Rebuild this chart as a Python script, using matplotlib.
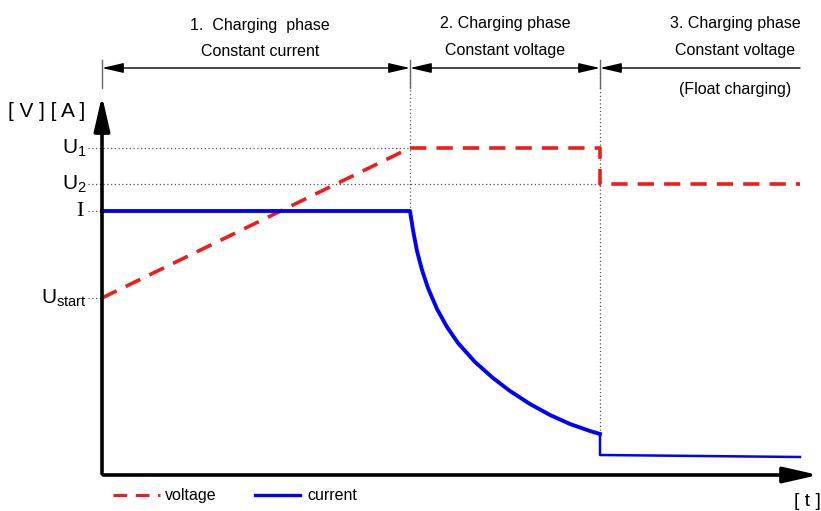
import matplotlib
matplotlib.use('Agg')
import matplotlib.pyplot as plt

plt.rcParams['font.family'] = ['Liberation Sans', 'DejaVu Sans']
plt.rcParams['mathtext.fontset'] = 'custom'
plt.rcParams['mathtext.rm'] = 'Liberation Sans'
plt.rcParams['mathtext.it'] = 'Liberation Sans'

# phase boundaries (time units)
t_phase = [0.0, 3.08, 4.98, 6.98]

# voltage
volt_t = [0.0, 3.08, 4.98, 4.98, 6.98]
volt_v = [1.77, 3.27, 3.27, 2.91, 2.91]

# current (constant, then decay)
cur_t = [0.0, 3.08, 3.11, 3.15, 3.20, 3.26, 3.35, 3.45, 3.56, 3.73,
         3.91, 4.08, 4.28, 4.48, 4.68, 4.88, 4.98]
cur_i = [2.64, 2.64, 2.45, 2.24, 2.05, 1.87, 1.66, 1.48, 1.32, 1.13,
         0.97, 0.84, 0.71, 0.60, 0.51, 0.44, 0.41]
# float charging current
float_t = [4.98, 4.98, 5.98, 6.98]
float_i = [0.41, 0.20, 0.19, 0.18]

# level markers
levels = {'U1': 3.27, 'U2': 2.91, 'I': 2.64, 'Ustart': 1.77}

fig = plt.figure(figsize=(8.21, 5.11), dpi=100)
ax = fig.add_axes([0, 0, 1, 1])
ax.set_xlim(-1.02, 7.19)
ax.set_ylim(-0.36, 4.75)
ax.axis('off')

dot = dict(color='#555555', lw=0.9, ls=(0, (1, 2)))

# horizontal guides
ax.plot([-0.14, t_phase[1]], [levels['U1']] * 2, **dot)
ax.plot([-0.14, t_phase[2]], [levels['U2']] * 2, **dot)
ax.plot([-0.14, 0], [levels['I']] * 2, **dot)
ax.plot([-0.14, 0], [levels['Ustart']] * 2, **dot)
# vertical guides
ax.plot([t_phase[1]] * 2, [levels['I'], 4.07], **dot)
ax.plot([t_phase[2]] * 2, [cur_i[-1], 4.07], **dot)

# curves
ax.plot(volt_t, volt_v, color='#ee1c1c', lw=2.6, ls=(0, (4.5, 2.8)))
ax.plot(cur_t, cur_i, color='#0000ff', lw=2.8, solid_joinstyle='round')
ax.plot(float_t, float_i, color='#0000ff', lw=1.8)

# axes with arrows
ax.annotate('', xy=(0, 3.82), xytext=(0, -0.015),
            arrowprops=dict(arrowstyle='-|>,head_length=1.4,head_width=0.32',
                            mutation_scale=15, lw=2.6, color='black'))
ax.annotate('', xy=(7.19, 0), xytext=(-0.015, 0),
            arrowprops=dict(arrowstyle='-|>,head_length=1.4,head_width=0.32',
                            mutation_scale=15, lw=2.6, color='black'))

# phase brackets
yb = 4.07
for x in t_phase[:3]:
    ax.plot([x, x], [3.87, 4.15], color='#666666', lw=1.0)
brk = dict(mutation_scale=10, lw=1.0, color='black', shrinkA=0, shrinkB=0)
ax.annotate('', xy=(t_phase[0], yb), xytext=(t_phase[1], yb),
            arrowprops=dict(arrowstyle='<|-|>,head_length=1.3,head_width=0.3', **brk))
ax.annotate('', xy=(t_phase[1], yb), xytext=(t_phase[2], yb),
            arrowprops=dict(arrowstyle='<|-|>,head_length=1.3,head_width=0.3', **brk))
ax.annotate('', xy=(t_phase[2], yb), xytext=(t_phase[3], yb),
            arrowprops=dict(arrowstyle='-|>,head_length=1.3,head_width=0.3', **brk))

fs = 11.5
ax.text(1.58, 4.50, '1.  Charging  phase', ha='center', va='center', fontsize=fs)
ax.text(1.58, 4.23, 'Constant current', ha='center', va='center', fontsize=fs)
ax.text(4.03, 4.52, '2. Charging phase', ha='center', va='center', fontsize=fs)
ax.text(4.03, 4.25, 'Constant voltage', ha='center', va='center', fontsize=fs)
ax.text(6.33, 4.52, '3. Charging phase', ha='center', va='center', fontsize=fs)
ax.text(6.33, 4.25, 'Constant voltage', ha='center', va='center', fontsize=fs)
ax.text(6.33, 3.86, '(Float charging)', ha='center', va='center', fontsize=fs)

# y labels
ax.text(-0.17, 3.64, '[ V ] [ A ]', ha='right', va='center', fontsize=15)
ax.text(-0.15, levels['U1'], r'U$_1$', ha='right', va='center', fontsize=15)
ax.text(-0.15, levels['U2'], r'U$_2$', ha='right', va='center', fontsize=15)
ax.text(-0.18, levels['I'], 'I', ha='right', va='center', fontsize=16,
        family=['Liberation Serif', 'DejaVu Serif'])
ax.text(-0.15, levels['Ustart'], r'U$_{\mathrm{start}}$', ha='right', va='center', fontsize=15)
ax.text(7.19, -0.26, '[ t ]', ha='right', va='center', fontsize=14)

# legend
ax.plot([0.11, 0.58], [-0.20] * 2, color='#ee1c1c', lw=2.2, ls=(0, (4.5, 2.8)))
ax.text(0.63, -0.20, 'voltage', ha='left', va='center', fontsize=11.5)
ax.plot([1.53, 1.98], [-0.20] * 2, color='#0000ff', lw=2.4)
ax.text(2.05, -0.20, 'current', ha='left', va='center', fontsize=11.5)

fig.savefig('out.png', dpi=100)
